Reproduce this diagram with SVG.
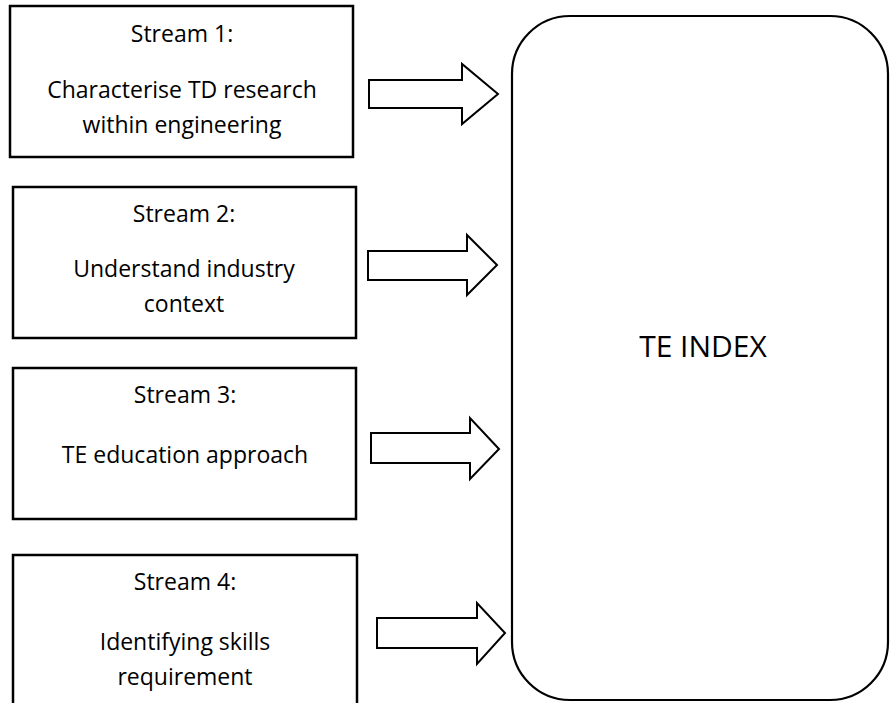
<svg xmlns="http://www.w3.org/2000/svg" width="890" height="703" viewBox="0 0 890 703">
<style>
.box{fill:#fff;stroke:#000;stroke-width:2.5}
.hub{fill:#fff;stroke:#000;stroke-width:2.2}
.arr{fill:#fff;stroke:#000;stroke-width:2;stroke-linejoin:miter}
text{font-family:"Open Sans","Liberation Sans",sans-serif;font-size:23px;fill:#000;text-anchor:middle}
.big{font-size:30px}
</style>
<rect width="890" height="703" fill="#fff"/>
<g id="stream1">
<rect class="box" x="10" y="6" width="343" height="151"/>
<text x="182" y="42">Stream 1:</text>
<text x="182" y="98">Characterise TD research</text>
<text x="182" y="133">within engineering</text>
</g>
<g id="stream2">
<rect class="box" x="13" y="187" width="343" height="151"/>
<text x="184" y="222">Stream 2:</text>
<text x="184" y="277">Understand industry</text>
<text x="184" y="312">context</text>
</g>
<g id="stream3">
<rect class="box" x="13" y="368" width="343" height="151"/>
<text x="185" y="403">Stream 3:</text>
<text x="185" y="463">TE education approach</text>
</g>
<g id="stream4">
<rect class="box" x="13" y="555" width="344" height="160"/>
<text x="185" y="590">Stream 4:</text>
<text x="185" y="650">Identifying skills</text>
<text x="185" y="685">requirement</text>
</g>
<g id="te-index">
<rect class="hub" x="512" y="16" width="376" height="684" rx="58" ry="58"/>
<text class="big" x="703" y="357">TE INDEX</text>
</g>
<g id="connectors">
<polygon class="arr" points="369,80 462,80 462,64 498,94 462,124 462,108 369,108"/>
<polygon class="arr" points="368,251 467,251 467,235 497,265 467,295 467,280 368,280"/>
<polygon class="arr" points="371,433 470,433 470,418 499,449 470,479 470,463 371,463"/>
<polygon class="arr" points="377,618 477,618 477,603 505,633 477,664 477,648 377,648"/>
</g>
</svg>
